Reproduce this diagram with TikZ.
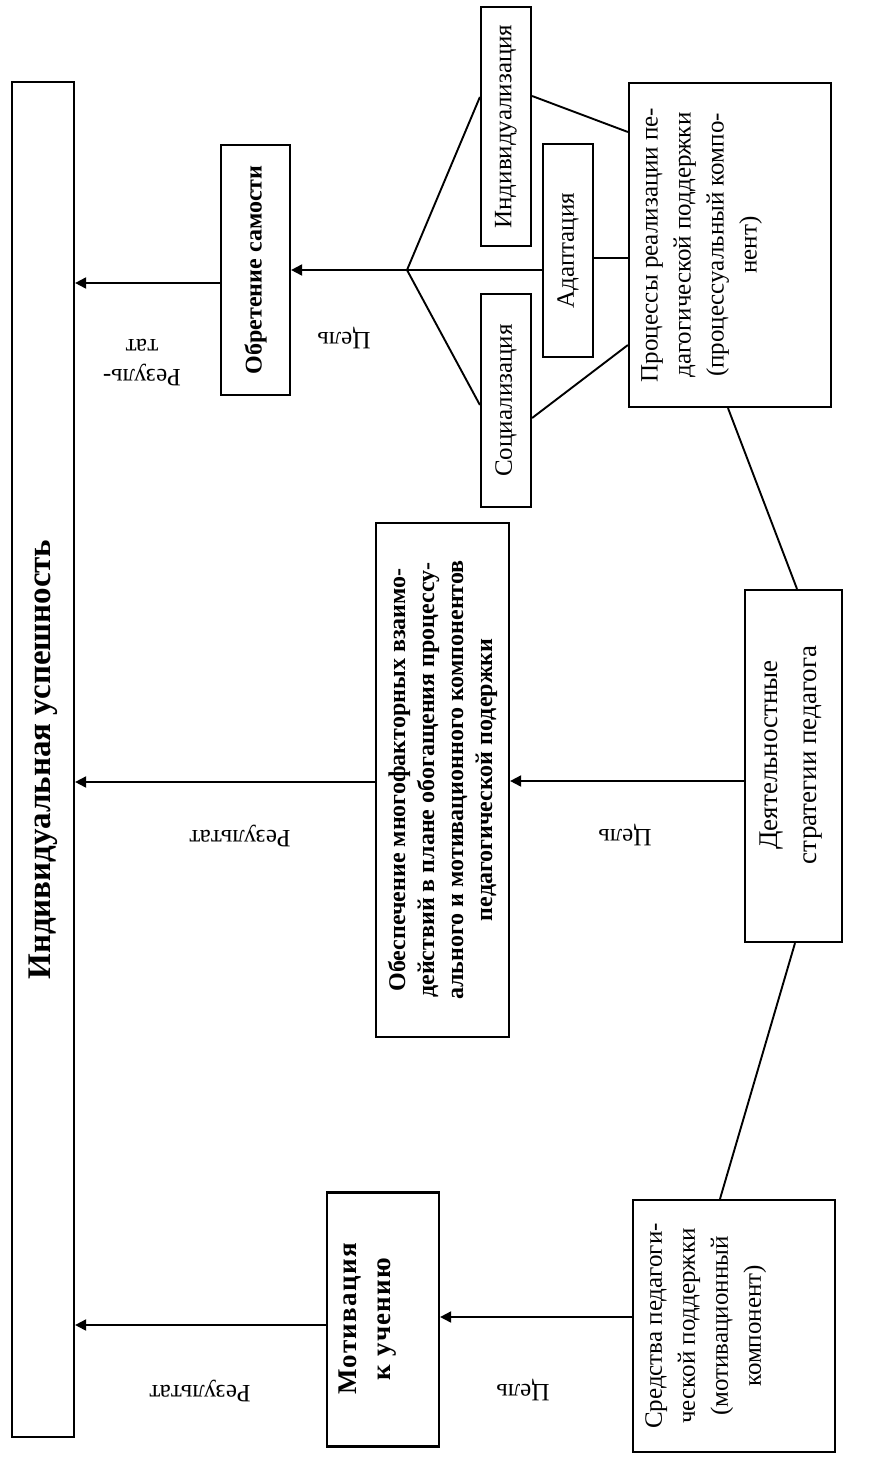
\documentclass[tikz,border=0pt]{standalone}
\usepackage{fontspec}
\setmainfont{Liberation Serif}
\usetikzlibrary{arrows.meta,calc}
\begin{document}
\begin{tikzpicture}[x=0.5pt,y=-0.5pt,
  box/.style={draw, line width=1.1pt, inner sep=0pt, rotate=90, align=center},
  txt/.style={inner sep=0pt, rotate=90, align=center},
  lbl/.style={inner sep=0pt, rotate=180, align=center, font=\fontsize{12.5pt}{15pt}\selectfont},
  reg/.style={font=\fontsize{12.5pt}{16.5pt}\selectfont},
  link/.style={line width=0.95pt},
  arr/.style={line width=0.95pt, -{Triangle[length=5.5pt,width=5.5pt]}}]
\useasboundingbox (0,0) rectangle (886,1463);
\fill[white] (0,0) rectangle (886,1463);

% main box
\node[box, minimum width=677.5pt, minimum height=31pt,
      font=\bfseries\fontsize{16.5pt}{20pt}\selectfont] (main) at (43,759.5)
      {Индивидуальная успешность};

% top branch
\node[box, minimum width=125pt, minimum height=34.5pt,
      font=\bfseries\fontsize{12pt}{14pt}\selectfont] (obr) at (255.5,270)
      {Обретение самости};
\node[box, reg, minimum width=119.5pt, minimum height=25pt] (ind) at (506,126.5) {Индивидуализация};
\node[box, reg, minimum width=106.5pt, minimum height=25pt] (adapt) at (568,250.5) {Адаптация};
\node[box, reg, minimum width=106.5pt, minimum height=25pt] (soc) at (506,400.5) {Социализация};
\node[box, minimum width=162pt, minimum height=101pt] (proc) at (730,245) {};
\node[txt, reg, anchor=north] (proct) at ([xshift=6.5pt]proc.north)
      {Процессы реализации пе-\\дагогической поддержки\\(процессуальный компо-\\нент)};

% middle branch
\node[box, minimum width=257pt, minimum height=66.5pt,
      font=\bfseries\fontsize{12pt}{14.5pt}\selectfont] (obesp) at (442.5,780)
      {Обеспечение многофакторных взаимо-\\действий в плане обогащения процессу-\\ального и мотивационного компонентов\\педагогической подержки};
\node[box, minimum width=176pt, minimum height=48.5pt] (deyat) at (793.5,766) {};
\node[txt, font=\fontsize{13.5pt}{19.5pt}\selectfont] (deyatt) at (791,755)
      {Деятельностные\\стратегии педагога};

% bottom branch
\node[box, minimum width=127pt, minimum height=56pt] (motiv) at (383,1319.5) {};
\node[txt, font=\bfseries\fontsize{13.5pt}{17pt}\selectfont\addfontfeatures{LetterSpace=5}] (motivt) at (368,1319)
      {Мотивация\\к учению};
\node[box, minimum width=126pt, minimum height=101pt] (sred) at (734,1326) {};
\node[txt, reg, anchor=north] (sredt) at ([xshift=6.5pt]sred.north)
      {Средства педагоги-\\ческой поддержки\\(мотивационный\\компонент)};

% fork
\coordinate (fork) at (407,270);
\draw[link] (fork) -- (ind.north |- 0,97);
\draw[link] (fork) -- (adapt.north |- fork);
\draw[link] (fork) -- (soc.north |- 0,405);
\draw[arr] (fork) -- (obr.south |- fork);
\draw[arr] (obr.north |- 0,283) -- (main.south |- 0,283);
\draw[link] (ind.south |- 0,96) -- (proc.north |- 0,132);
\draw[link] (adapt.south |- 0,258) -- (proc.north |- 0,258);
\draw[link] (soc.south |- 0,418) -- (proc.north |- 0,345);
\draw[link] (proc.west -| 728,0) -- (deyat.east -| 797,0);
\draw[link] (deyat.west -| 795,0) -- (sred.east -| 720,0);

\draw[arr] (deyat.north |- 0,781) -- (obesp.south |- 0,781);
\draw[arr] (obesp.north |- 0,782) -- (main.south |- 0,782);
\draw[arr] (sred.north |- 0,1317) -- (motiv.south |- 0,1317);
\draw[arr] (motiv.north |- 0,1325) -- (main.south |- 0,1325);

% labels
\node[lbl] (r1) at (142,363) {Резуль-\\тат};
\node[lbl] (c1) at (344,338) {Цель};
\node[lbl] (r2) at (240,836) {Результат};
\node[lbl] (c2) at (625,835) {Цель};
\node[lbl] (r3) at (200,1391) {Результат};
\node[lbl] (c3) at (523,1390) {Цель};
\end{tikzpicture}
\end{document}
